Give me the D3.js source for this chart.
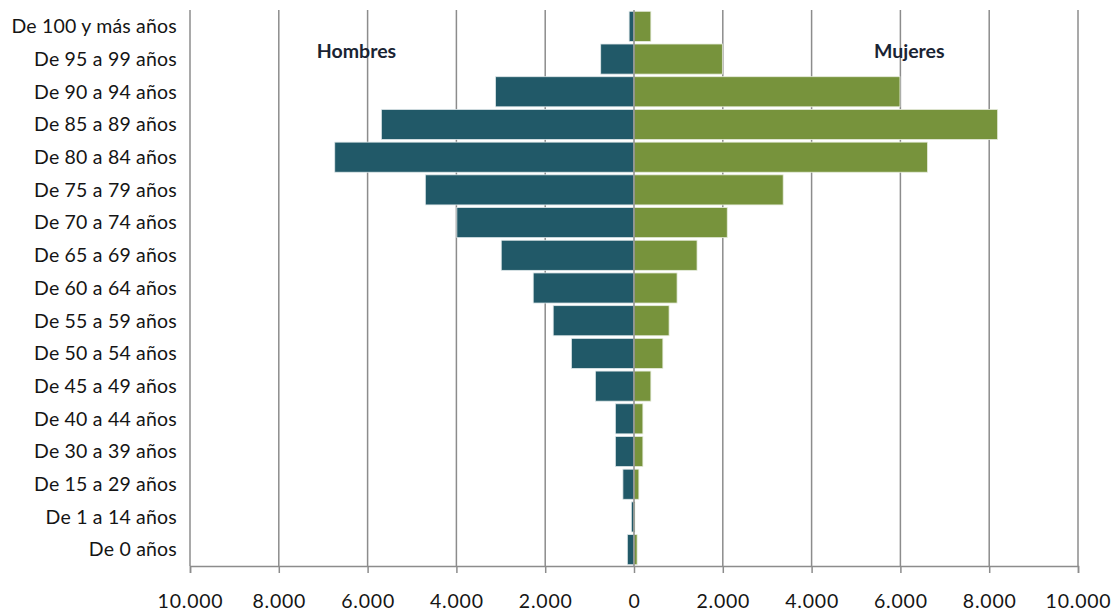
<!DOCTYPE html>
<html>
<head>
<meta charset="utf-8">
<script src="https://cdn.jsdelivr.net/npm/d3@7"></script>
<style>
  html, body { margin: 0; padding: 0; background: #fff; }
  svg { display: block; font-family: Lato, "Open Sans", sans-serif; }
</style>
</head>
<body>
<svg id="chart" width="1117" height="613"></svg>
<script>
// Age groups, oldest at the top
const categories = [
  "De 100 y más años", "De 95 a 99 años", "De 90 a 94 años", "De 85 a 89 años",
  "De 80 a 84 años", "De 75 a 79 años", "De 70 a 74 años", "De 65 a 69 años",
  "De 60 a 64 años", "De 55 a 59 años", "De 50 a 54 años", "De 45 a 49 años",
  "De 40 a 44 años", "De 30 a 39 años", "De 15 a 29 años", "De 1 a 14 años",
  "De 0 años"
];
// Men (drawn to the left) and women (to the right)
const hombres = [110, 750, 3120, 5690, 6740, 4700, 3990, 2990, 2270, 1820, 1410, 870, 420, 420, 250, 60, 150];
const mujeres = [380, 1990, 5990, 8190, 6610, 3360, 2100, 1420, 970, 790, 650, 380, 200, 200, 110, 20, 70];
const tickValues = [-10000, -8000, -6000, -4000, -2000, 0, 2000, 4000, 6000, 8000, 10000];
const seriesNames = ["Hombres", "Mujeres"];

const svg = d3.select("#chart");
const x = d3.scaleLinear().domain([-10000, 10000]).range([190, 1078]);
const y = d3.scaleBand().domain(categories).range([10, 566]).paddingInner(0.08).paddingOuter(0.04);
const fmt = v => d3.format(",")(Math.abs(v)).replace(/,/g, ".");

const gridColor = "#8c8c8c";
const textColor = "#151515";

// vertical gridlines (behind the bars), except the centre axis
svg.append("g").selectAll("line")
  .data(tickValues.filter(v => v !== 0))
  .join("line")
  .attr("x1", d => x(d)).attr("x2", d => x(d))
  .attr("y1", 10).attr("y2", 566)
  .attr("stroke", gridColor).attr("stroke-width", 1.5);

// bars
const bars = svg.append("g");
bars.selectAll("rect.h")
  .data(categories)
  .join("rect")
  .attr("class", "h")
  .attr("x", (d, i) => x(-hombres[i]))
  .attr("width", (d, i) => x(0) - x(-hombres[i]))
  .attr("y", d => y(d))
  .attr("height", y.bandwidth())
  .attr("fill", "#215968")
  .attr("stroke", "#dfe8ea").attr("stroke-width", 0.8);

bars.selectAll("rect.m")
  .data(categories)
  .join("rect")
  .attr("class", "m")
  .attr("x", x(0))
  .attr("width", (d, i) => x(mujeres[i]) - x(0))
  .attr("y", d => y(d))
  .attr("height", y.bandwidth())
  .attr("fill", "#77933c")
  .attr("stroke", "#e6ecdc").attr("stroke-width", 0.8);

// centre vertical axis over the bars
svg.append("line")
  .attr("x1", x(0)).attr("x2", x(0))
  .attr("y1", 10).attr("y2", 566)
  .attr("stroke", gridColor).attr("stroke-width", 1.5);

// bottom axis
const xAxis = d3.axisBottom(x).tickValues(tickValues).tickSize(7).tickPadding(21).tickFormat(fmt);
const ax = svg.append("g").attr("transform", "translate(0,566)").call(xAxis);
ax.select(".domain").attr("stroke", gridColor).attr("stroke-width", 1.5);
ax.selectAll(".tick line").attr("stroke", gridColor).attr("stroke-width", 1.5);
ax.selectAll(".tick text")
  .attr("font-size", 19.5).attr("fill", textColor)
  .attr("letter-spacing", "0.8px")
  .style("font-family", "Lato, 'Open Sans', sans-serif");

// category labels
svg.append("g").selectAll("text")
  .data(categories)
  .join("text")
  .attr("x", 177)
  .attr("y", d => y(d) + y.bandwidth() / 2)
  .attr("dy", "0.35em")
  .attr("text-anchor", "end")
  .attr("font-size", 19.5)
  .attr("letter-spacing", "0.2px")
  .attr("fill", textColor)
  .text(d => d);

// series titles
svg.append("g").selectAll("text")
  .data(seriesNames)
  .join("text")
  .attr("x", (d, i) => i === 0 ? x(-6250) : x(6200))
  .attr("y", 51)
  .attr("dy", "0.35em")
  .attr("text-anchor", "middle")
  .attr("font-size", 19.5)
  .attr("font-weight", "bold")
  .attr("fill", "#1a2433")
  .text(d => d);
</script>
</body>
</html>
